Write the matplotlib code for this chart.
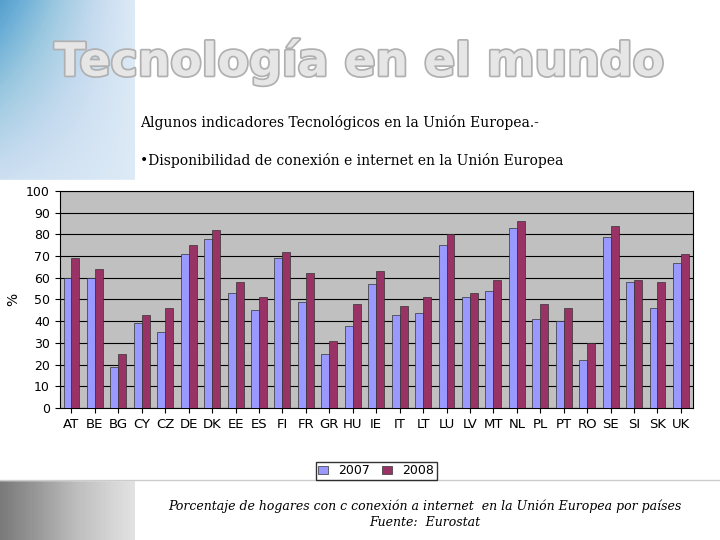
import matplotlib.pyplot as plt
import matplotlib.patheffects as pe
import numpy as np

countries = ["AT", "BE", "BG", "CY", "CZ", "DE", "DK", "EE", "ES", "FI", "FR", "GR", "HU", "IE",
             "IT", "LT", "LU", "LV", "MT", "NL", "PL", "PT", "RO", "SE", "SI", "SK", "UK"]
v2007 = [60, 60, 19, 39, 35, 71, 78, 53, 45, 69, 49, 25, 38, 57,
         43, 44, 75, 51, 54, 83, 41, 40, 22, 79, 58, 46, 67]
v2008 = [69, 64, 25, 43, 46, 75, 82, 58, 51, 72, 62, 31, 48, 63,
         47, 51, 80, 53, 59, 86, 48, 46, 30, 84, 59, 58, 71]

fig = plt.figure(figsize=(7.2, 5.4), dpi=100)

# background gradients (decorative)
bg = fig.add_axes([0, 0, 1, 1], zorder=-10)
bg.set_axis_off()
bg.set_xlim(0, 720)
bg.set_ylim(540, 0)
grad = np.linspace(1, 0, 135)[None, :] * np.linspace(1, 0.2, 180)[:, None]
bg.imshow(grad, extent=[0, 135, 180, 0], cmap="Blues", vmin=-0.3, vmax=2.0, aspect="auto")
grad2 = np.tile(np.linspace(1, 0, 135)[None, :], (60, 1))
bg.imshow(grad2, extent=[0, 135, 540, 480], cmap="Greys", vmin=-0.5, vmax=2.0, aspect="auto")
bg.plot([0, 720], [480, 480], color="#cccccc", lw=1)
bg.add_patch(plt.Rectangle((0, 180), 700, 300, color="white", zorder=1))

fig.text(0.50, 0.885, "Tecnología en el mundo", ha="center", va="center", fontsize=33,
         fontweight="bold", color="#e6e6e6",
         path_effects=[pe.withStroke(linewidth=2.5, foreground="#b0b0b0")])
fig.text(0.195, 0.773, "Algunos indicadores Tecnológicos en la Unión Europea.-",
         family="DejaVu Serif", fontsize=10, va="center")
fig.text(0.195, 0.703, "•Disponibilidad de conexión e internet en la Unión Europea",
         family="DejaVu Serif", fontsize=10, va="center")

ax = fig.add_axes([0.083, 0.2444, 0.879, 0.402])
x = np.arange(len(countries))
w = 0.34
ax.bar(x - w / 2, v2007, w, color="#9999ff", edgecolor="#333333", lw=0.5, label="2007", zorder=3)
ax.bar(x + w / 2, v2008, w, color="#993366", edgecolor="#333333", lw=0.5, label="2008", zorder=3)
ax.set_facecolor("#c0c0c0")
ax.set_ylim(0, 100)
ax.set_xlim(-0.5, len(countries) - 0.5)
ax.set_yticks(range(0, 101, 10))
ax.yaxis.grid(True, color="black", lw=0.8, zorder=0)
ax.set_xticks(x)
ax.set_xticklabels(countries, fontsize=9.5)
ax.tick_params(axis="y", labelsize=9)
ax.set_ylabel("%", fontsize=10)
ax.legend(loc="center", bbox_to_anchor=(0.5, -0.29), ncol=2, fontsize=9, frameon=True,
          fancybox=False, edgecolor="black", handlelength=0.8, borderpad=0.2, columnspacing=1.0)

fig.text(0.59, 0.062, "Porcentaje de hogares con c conexión a internet  en la Unión Europea por países",
         family="DejaVu Serif", style="italic", fontsize=9, ha="center", va="center")
fig.text(0.59, 0.032, "Fuente:  Eurostat", family="DejaVu Serif", style="italic", fontsize=9,
         ha="center", va="center")

fig.savefig("out.png", dpi=100)
